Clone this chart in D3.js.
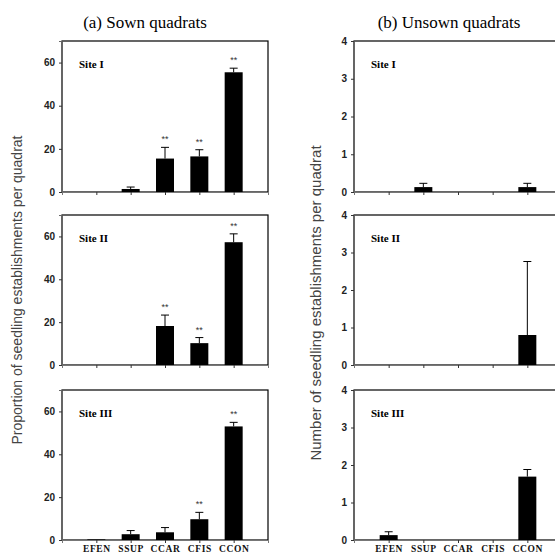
<!DOCTYPE html>
<html>
<head>
<meta charset="utf-8">
<script src="https://cdn.jsdelivr.net/npm/d3@7"></script>
<style>
  body { margin: 0; background: #fff; }
  svg { display: block; }
</style>
</head>
<body>
<svg id="chart"></svg>
<script>
// species codes along the x axis
let categories = ['EFEN', 'SSUP', 'CCAR', 'CFIS', 'CCON'];
let sites = ['Site I', 'Site II', 'Site III'];

// (a) sown quadrats: proportion, mean and top of error bar
let sownMean = [
  [0, 1.4, 15.5, 16.5, 55.5],
  [0, 0, 18.2, 10.2, 57.3],
  [0.3, 2.7, 3.6, 9.7, 53.0]
];
let sownErr = [
  [0, 2.3, 20.7, 19.6, 57.4],
  [0, 0, 23.3, 12.8, 61.2],
  [0, 4.4, 5.8, 12.9, 54.9]
];
let sownStars = [
  [false, false, true, true, true],
  [false, false, true, true, true],
  [false, false, false, true, true]
];

// (b) unsown quadrats: number, mean and top of error bar
let unsownMean = [
  [0, 0.13, 0, 0, 0.13],
  [0, 0, 0, 0, 0.8],
  [0.13, 0, 0, 0, 1.69]
];
let unsownErr = [
  [0, 0.23, 0, 0, 0.23],
  [0, 0, 0, 0, 2.76],
  [0.22, 0, 0, 0, 1.88]
];

let sownTicks = [0, 20, 40, 60];
let unsownTicks = [0, 1, 2, 3, 4];

let width = 555;
let height = 555;

let rows = [[41, 192], [215, 365], [390, 540]];

let svg = d3.select('#chart')
  .attr('width', width)
  .attr('height', height);

let drawPanel = (x0, x1, row, maxY, ticks, means, errs, stars, siteName, showX) => {
  let [y0, y1] = row;
  let xScale = d3.scalePoint().domain(categories).range([x0, x1]).padding(1);
  let yScale = d3.scaleLinear().domain([0, maxY]).range([y1, y0]);

  let g = svg.append('g');

  // frame (top/right black)
  g.append('rect')
    .attr('x', x0).attr('y', y0)
    .attr('width', x1 - x0).attr('height', y1 - y0)
    .attr('fill', 'none').attr('stroke', '#000').attr('stroke-width', 1.2);

  let bw = 18;
  let data = categories.map((c, i) => ({c: c, v: means[i], e: errs[i], s: stars ? stars[i] : false}));

  g.selectAll('rect.bar')
    .data(data.filter(d => d.v > 0))
    .enter()
    .append('rect')
    .attr('class', 'bar')
    .attr('x', d => xScale(d.c) - bw / 2)
    .attr('y', d => yScale(d.v))
    .attr('width', bw)
    .attr('height', d => yScale(0) - yScale(d.v))
    .attr('fill', '#000');

  let eb = data.filter(d => d.e > d.v);
  g.selectAll('line.err')
    .data(eb)
    .enter()
    .append('line')
    .attr('x1', d => xScale(d.c)).attr('x2', d => xScale(d.c))
    .attr('y1', d => yScale(d.v)).attr('y2', d => yScale(d.e))
    .attr('stroke', '#000').attr('stroke-width', 1);
  g.selectAll('line.cap')
    .data(eb)
    .enter()
    .append('line')
    .attr('x1', d => xScale(d.c) - 4).attr('x2', d => xScale(d.c) + 4)
    .attr('y1', d => yScale(d.e)).attr('y2', d => yScale(d.e))
    .attr('stroke', '#000').attr('stroke-width', 1);

  g.selectAll('text.star')
    .data(data.filter(d => d.s))
    .enter()
    .append('text')
    .attr('x', d => xScale(d.c))
    .attr('y', d => yScale(Math.max(d.e, d.v)) - 5)
    .attr('text-anchor', 'middle')
    .attr('font-family', 'Liberation Sans, Arial, sans-serif')
    .attr('font-size', 9)
    .attr('fill', '#333')
    .text('**');

  // axes
  let yAxis = d3.axisLeft(yScale).tickValues(ticks).tickSize(3).tickPadding(4).tickFormat(d3.format('d'));
  let ya = g.append('g')
    .attr('transform', 'translate(' + x0 + ',0)')
    .call(yAxis);
  ya.select('.domain').attr('stroke', '#666');
  ya.selectAll('.tick line').attr('stroke', '#333');
  ya.selectAll('text')
    .attr('font-family', 'Liberation Sans, Arial, sans-serif')
    .attr('font-weight', 'bold')
    .attr('font-size', 10)
    .attr('fill', '#222');

  let xAxis = d3.axisBottom(xScale).tickSize(3).tickFormat(showX ? (d => d) : '');
  let xa = g.append('g')
    .attr('transform', 'translate(0,' + y1 + ')')
    .call(xAxis);
  xa.select('.domain').attr('stroke', '#777');
  xa.selectAll('.tick line').attr('stroke', '#333');
  xa.selectAll('text')
    .attr('font-family', 'Liberation Serif, Times New Roman, serif')
    .attr('font-weight', 'bold')
    .attr('font-size', 9.5)
    .attr('letter-spacing', 0.6)
    .attr('fill', '#111')
    .attr('y', 12)
    .attr('dy', 0);

  g.append('text')
    .attr('x', x0 + 17)
    .attr('y', y0 + 27)
    .attr('font-family', 'Liberation Serif, Times New Roman, serif')
    .attr('font-weight', 'bold')
    .attr('font-size', 11)
    .text(siteName);
};

rows.forEach((row, i) => {
  drawPanel(62, 268, row, 70, sownTicks, sownMean[i], sownErr[i], sownStars[i], sites[i], i === 2);
  drawPanel(354, 562, row, 4, unsownTicks, unsownMean[i], unsownErr[i], null, sites[i], i === 2);
});

// panel titles
svg.append('text')
  .attr('x', 145).attr('y', 28)
  .attr('text-anchor', 'middle')
  .attr('font-family', 'Liberation Serif, Times New Roman, serif')
  .attr('font-size', 17)
  .text('(a) Sown quadrats');
svg.append('text')
  .attr('x', 449).attr('y', 28)
  .attr('text-anchor', 'middle')
  .attr('font-family', 'Liberation Serif, Times New Roman, serif')
  .attr('font-size', 17)
  .text('(b) Unsown  quadrats');

// y axis titles
svg.append('text')
  .attr('transform', 'translate(22,290) rotate(-90)')
  .attr('text-anchor', 'middle')
  .attr('font-family', 'Liberation Sans, Arial, sans-serif')
  .attr('font-size', 14)
  .attr('fill', '#444')
  .text('Proportion of seedling establishments per quadrat');
svg.append('text')
  .attr('transform', 'translate(321,303) rotate(-90)')
  .attr('text-anchor', 'middle')
  .attr('font-family', 'Liberation Sans, Arial, sans-serif')
  .attr('font-size', 15)
  .attr('fill', '#444')
  .text('Number of seedling establishments per quadrat');
</script>
</body>
</html>
